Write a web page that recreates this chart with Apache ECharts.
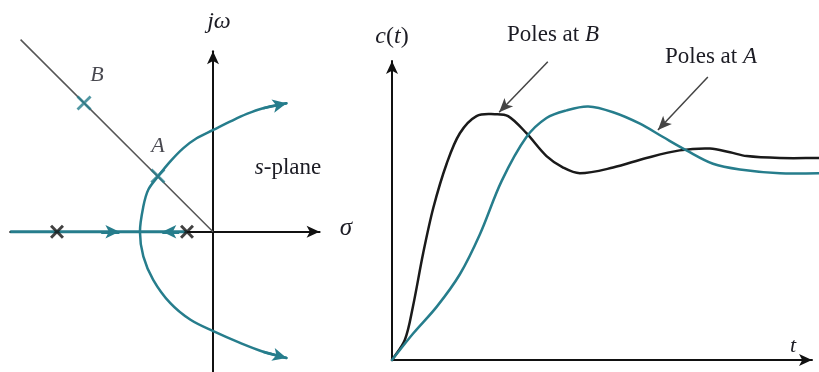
<!DOCTYPE html>
<html>
<head>
<meta charset="utf-8">
<script src="https://cdn.jsdelivr.net/npm/echarts@6/dist/echarts.min.js"></script>
<style>
  html, body { margin: 0; padding: 0; background: #fff; }
  #chart { width: 819px; height: 372px; }
</style>
</head>
<body>
<div id="chart"></div>
<script>
// ---- s-plane (root locus) ----
const openLoopPoles = [[-6, 0], [-1, 0]];
const rootB = [-4.96, 4.96];
const rootA = [-2.12, 2.15];
const dampingLine = [[-7.4, 7.4], [0, 0]];
const realAxisLocus = [[-7.8, 0], [-1, 0]];
const realAxisArrows = [[[-4.3, 0], [-3.6, 0]], [[-1.3, 0], [-1.95, 0]]];
const upperBranch = [
  [-2.81, 0], [-2.68, 0.97], [-2.49, 1.62], [-2.10, 2.15], [-1.65, 2.70],
  [-1.14, 3.22], [-0.63, 3.60], [0.01, 3.92], [0.65, 4.24], [1.30, 4.54],
  [1.93, 4.76], [2.83, 4.95]
];
const lowerBranch = [
  [-2.81, 0], [-2.68, -0.95], [-2.30, -1.85], [-1.65, -2.74], [-0.88, -3.38],
  [0.01, -3.83], [1.04, -4.28], [1.93, -4.62], [2.83, -4.86]
];

// ---- step responses c(t) ----
const responseB = [
  [0, 0], [0.30, 0.105], [0.49, 0.28], [0.73, 0.56], [0.97, 0.80], [1.28, 1.03],
  [1.59, 1.19], [1.98, 1.28], [2.41, 1.29], [2.72, 1.28], [3.15, 1.19],
  [3.62, 1.07], [4.01, 1.01], [4.40, 0.98], [5.18, 1.01], [5.96, 1.06],
  [6.74, 1.10], [7.45, 1.11], [7.92, 1.09], [8.31, 1.07], [9.09, 1.06], [10, 1.06]
];
const responseA = [
  [0, 0], [0.50, 0.14], [1.05, 0.28], [1.59, 0.45], [2.06, 0.66], [2.57, 0.94],
  [3.15, 1.17], [3.62, 1.27], [4.09, 1.31], [4.60, 1.33], [5.18, 1.30],
  [5.81, 1.24], [6.35, 1.17], [6.90, 1.10], [7.52, 1.03], [8.15, 1.00],
  [9.09, 0.98], [10, 0.98]
];
const pointerB = [[3.65, 1.565], [2.51, 1.30]];
const pointerA = [[7.40, 1.485], [6.23, 1.207]];

const TEAL = '#267d8c';
const INK = '#1c1c24';
const SERIF = '"Liberation Serif", "DejaVu Serif", serif';
const CROSS_BOLD = 'path://M0,1.5L1.5,0L5,3.5L8.5,0L10,1.5L6.5,5L10,8.5L8.5,10L5,6.5L1.5,10L0,8.5L3.5,5Z';
const CROSS_MID = 'path://M0,1.3L1.3,0L5,3.7L8.7,0L10,1.3L6.3,5L10,8.7L8.7,10L5,6.3L1.3,10L0,8.7L3.7,5Z';

// Smooth cubic path through pixel points: tangent along the neighbour chord,
// control arms one third of each segment length.
function smoothPath(pts) {
  const n = pts.length;
  const tan = pts.map((p, i) => {
    const a = pts[Math.max(i - 1, 0)], b = pts[Math.min(i + 1, n - 1)];
    const dx = b[0] - a[0], dy = b[1] - a[1];
    const l = Math.hypot(dx, dy) || 1;
    return [dx / l, dy / l];
  });
  let d = 'M' + pts[0][0].toFixed(2) + ' ' + pts[0][1].toFixed(2);
  for (let i = 0; i < n - 1; i++) {
    const p = pts[i], q = pts[i + 1];
    const L = Math.hypot(q[0] - p[0], q[1] - p[1]) / 3;
    const c1 = [p[0] + tan[i][0] * L, p[1] + tan[i][1] * L];
    const c2 = [q[0] - tan[i + 1][0] * L, q[1] - tan[i + 1][1] * L];
    d += ' C' + [c1[0], c1[1], c2[0], c2[1], q[0], q[1]].map(v => v.toFixed(2)).join(' ');
  }
  return d;
}

function curveSeries(name, xi, points, color, width, extra) {
  return Object.assign({
    name: name, type: 'custom', coordinateSystem: 'cartesian2d',
    xAxisIndex: xi, yAxisIndex: xi, silent: true, clip: false,
    data: [points[0]],
    renderItem: function (params, api) {
      const px = points.map(p => api.coord(p));
      return {
        type: 'path', silent: true,
        shape: { pathData: smoothPath(px) },
        style: { stroke: color, lineWidth: width, fill: null, lineJoin: 'round', lineCap: 'round' }
      };
    }
  }, extra || {});
}

function arrowAxis(min, max) {
  return {
    type: 'value', min: min, max: max,
    axisLine: { show: true, onZero: true, symbol: ['none', 'arrow'], symbolSize: [9, 13],
      lineStyle: { color: '#111', width: 2 } },
    axisTick: { show: false }, axisLabel: { show: false }, splitLine: { show: false }
  };
}

function arrowSegments(segs, color, width, size) {
  return {
    silent: true, animation: false,
    symbol: ['none', 'arrow'], symbolSize: size,
    label: { show: false },
    lineStyle: { color: color, width: width, type: 'solid' },
    emphasis: { disabled: true },
    data: segs.map(s => [{ coord: s[0] }, { coord: s[1] }])
  };
}

const italicRich = size => ({ i: { fontStyle: 'italic', fontSize: size, fontFamily: SERIF, fill: INK } });

const chart = echarts.init(document.getElementById('chart'), null, { renderer: 'canvas' });

chart.setOption({
  animation: false,
  backgroundColor: '#fff',
  grid: [
    { left: 10.2, top: 51.3, width: 309.4, height: 321.1 },
    { left: 392, top: 61, width: 420, height: 299 }
  ],
  xAxis: [
    Object.assign(arrowAxis(-7.8, 4.1), { gridIndex: 0 }),
    Object.assign(arrowAxis(0, 9.84), { gridIndex: 1 })
  ],
  yAxis: [
    Object.assign(arrowAxis(-5.4, 6.95), { gridIndex: 0 }),
    Object.assign(arrowAxis(0, 1.569), { gridIndex: 1 })
  ],
  graphic: [
    { type: 'text', x: 219, y: 22, style: { text: 'jω', font: 'italic 24px ' + SERIF, fill: INK, align: 'center', verticalAlign: 'middle' } },
    { type: 'text', x: 346, y: 228, style: { text: 'σ', font: 'italic 25px ' + SERIF, fill: INK, align: 'center', verticalAlign: 'middle' } },
    { type: 'text', x: 288, y: 168, style: { text: '{i|s}-plane', font: '23px ' + SERIF, fill: INK,
        align: 'center', verticalAlign: 'middle', rich: italicRich(23) } },
    { type: 'text', x: 392, y: 37, style: { text: '{i|c}({i|t})', font: '24px ' + SERIF, fill: INK,
        align: 'center', verticalAlign: 'middle', rich: italicRich(24) } },
    { type: 'text', x: 793, y: 346, style: { text: 't', font: 'italic 22px ' + SERIF, fill: INK, align: 'center', verticalAlign: 'middle' } },
    { type: 'text', x: 553, y: 35, style: { text: 'Poles at {i|B}', font: '23px ' + SERIF, fill: INK,
        align: 'center', verticalAlign: 'middle', rich: italicRich(23) } },
    { type: 'text', x: 711, y: 57, style: { text: 'Poles at {i|A}', font: '23px ' + SERIF, fill: INK,
        align: 'center', verticalAlign: 'middle', rich: italicRich(23) } }
  ],
  series: [
    {
      name: 'damping line', type: 'line', xAxisIndex: 0, yAxisIndex: 0,
      data: dampingLine, symbol: 'none', silent: true, clip: false,
      lineStyle: { color: '#555', width: 1.5 }
    },
    {
      name: 'real-axis locus', type: 'line', xAxisIndex: 0, yAxisIndex: 0,
      data: realAxisLocus, symbol: 'none', silent: true,
      lineStyle: { color: TEAL, width: 3 },
      markLine: arrowSegments(realAxisArrows, TEAL, 3, [10, 14])
    },
    curveSeries('complex branches', 0, lowerBranch.slice().reverse().concat(upperBranch.slice(1)), TEAL, 2.5, {
      markLine: arrowSegments([upperBranch.slice(-2), lowerBranch.slice(-2)], TEAL, 2.5, [10, 14])
    }),
    {
      name: 'open-loop poles', type: 'scatter', xAxisIndex: 0, yAxisIndex: 0,
      data: openLoopPoles, symbol: CROSS_BOLD, symbolSize: 14, silent: true, z: 10,
      itemStyle: { color: '#111' }
    },
    {
      name: 'closed-loop poles', type: 'scatter', xAxisIndex: 0, yAxisIndex: 0,
      symbol: CROSS_MID, symbolSize: 15, silent: true, z: 10,
      itemStyle: { color: TEAL },
      data: [
        { value: rootB, label: { show: true, formatter: 'B', position: 'top', offset: [13, -4],
            fontFamily: SERIF, fontStyle: 'italic', fontSize: 22, color: INK } },
        { value: rootA, label: { show: true, formatter: 'A', position: 'top', offset: [0, -6],
            fontFamily: SERIF, fontStyle: 'italic', fontSize: 22, color: INK } }
      ]
    },
    curveSeries('Poles at B', 1, responseB, '#1a1a1a', 2.5, {
      markLine: arrowSegments([pointerB], '#444', 1.5, [9, 14])
    }),
    curveSeries('Poles at A', 1, responseA, TEAL, 2.5, {
      markLine: arrowSegments([pointerA], '#444', 1.5, [9, 14])
    })
  ]
});
</script>
</body>
</html>
